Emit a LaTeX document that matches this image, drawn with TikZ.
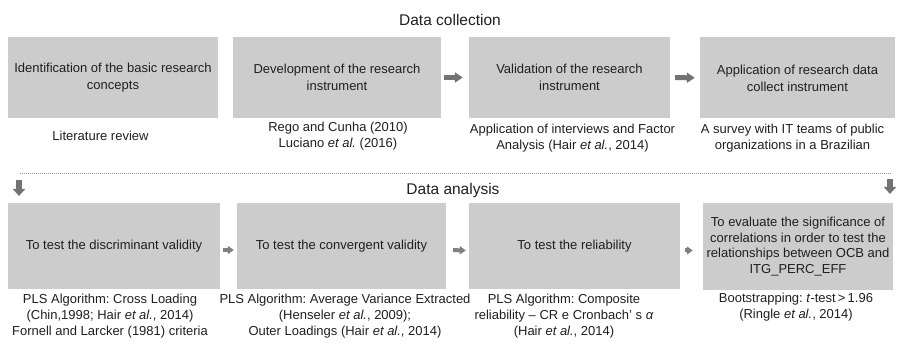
\documentclass[tikz,border=0pt]{standalone}
\usepackage{fontspec}
\setmainfont{Liberation Sans}
\usetikzlibrary{arrows.meta}
\newcommand{\etal}{\textit{et al.}}
\frenchspacing

\begin{document}
\begin{tikzpicture}[x=1pt,y=-1pt,
  stage/.style={fill=black!20,text=black!88,align=center,inner sep=0pt,
    minimum height=81pt,font=\fontsize{13}{17}\selectfont},
  note/.style={text=black!88,align=center,inner sep=0pt,font=\fontsize{13}{16}\selectfont},
  head/.style={text=black!88,inner sep=0pt,font=\fontsize{15.5}{18}\selectfont},
  flow/.style={line width=5pt,draw=black!55,-{Triangle[width=10pt,length=8pt]}},
  small flow/.style={line width=4pt,draw=black!50,-{Triangle[width=8pt,length=6pt]}},
  drop/.style={line width=6pt,draw=black!55,-{Triangle[width=12pt,length=7pt]}}]
  \useasboundingbox (0,0) rectangle (900,344);
  % data collection
  \node (t1) at (450,20) [head] {Data collection};
  \node (b1) at (113,77.5) [stage,minimum width=210pt] {Identification of the basic research\\concepts};
  \node (b2) at (337,77.5) [stage,minimum width=208pt] {Development of the research\\instrument};
  \node (b3) at (569.5,77.5) [stage,minimum width=201pt] {Validation of the research\\instrument};
  \node (b4) at (797.5,78) [stage,minimum width=195pt] {Application of research data\\collect instrument};
  \node (n1) at (100.5,136) [note] {Literature review};
  \node (n2) at (338,136) [note] {Rego and Cunha (2010)\\Luciano \etal{} (2016)};
  \node (n3) at (572.5,138) [note] {Application of interviews and Factor\\Analysis (Hair \etal, 2014)};
  \node (n4) at (792.5,138) [note] {A survey with IT teams of public\\organizations in a Brazilian};
  \draw[flow,shorten <=3pt,shorten >=6pt] (b2) to (b3);
  \draw[flow,shorten <=5pt,shorten >=5pt] (b3) to (b4);
  % separator
  \coordinate (s1) at (20,173);
  \coordinate (s2) at (892,173);
  \draw[black!40,line width=0.7pt,dash pattern=on 1pt off 1pt] (s1) -- (s2);
  \coordinate (d1) at (19,180);
  \coordinate (d2) at (19,196);
  \coordinate (d3) at (890,179);
  \coordinate (d4) at (890,194);
  \draw[drop] (d1) -- (d2);
  \draw[drop] (d3) -- (d4);
  % data analysis
  \node (t2) at (453,190) [head] {Data analysis};
  \node (c1) at (114,246) [stage,minimum width=212pt,minimum height=86pt] {To test the discriminant validity};
  \node (c2) at (341.5,246) [stage,minimum width=209pt,minimum height=86pt] {To test the convergent validity};
  \node (c3) at (574.5,246.5) [stage,minimum width=211pt,minimum height=86pt] {To test the reliability};
  \node (c4) at (798,246.5) [stage,minimum width=190pt,minimum height=87pt,font=\fontsize{13}{15.7}\selectfont] {To evaluate the significance of\\correlations in order to test the\\relationships between OCB and\\ITG\_PERC\_EFF};
  \node (m1) at (110,294) [note,anchor=north] {PLS Algorithm: Cross Loading\\(Chin,1998; Hair \etal, 2014)\\Fornell and Larcker (1981) criteria};
  \node (m2) at (345,294) [note,anchor=north] {PLS Algorithm: Average Variance Extracted\\(Henseler \etal, 2009);\\Outer Loadings (Hair \etal, 2014)};
  \node (m3) at (564,294) [note,anchor=north] {PLS Algorithm: Composite\\reliability – CR e Cronbach’ s \textit{α}\\(Hair \etal, 2014)};
  \node (m4) at (796,293) [note,anchor=north] {Bootstrapping: \textit{t}-test\,>\,1.96\\(Ringle \etal, 2014)};
  \draw[small flow,shorten <=3pt,shorten >=3pt] ([yshift=-4pt]c1.east) to ([yshift=-4pt]c2.west);
  \draw[small flow,shorten <=7pt,shorten >=3pt] ([yshift=-4pt]c2.east) to ([yshift=-4pt]c3.west);
  \draw[small flow,shorten <=5pt,shorten >=10pt] ([yshift=-4pt]c3.east) to ([yshift=-4pt]c4.west);
\end{tikzpicture}
\end{document}
